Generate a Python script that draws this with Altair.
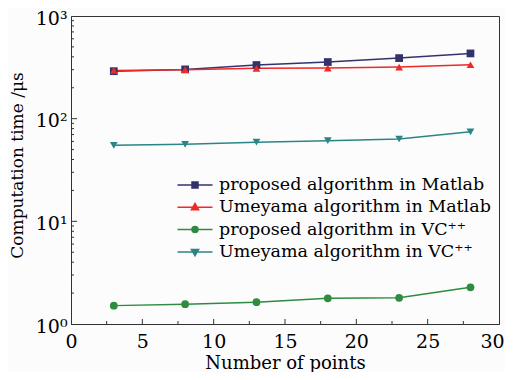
import altair as alt
import pandas as pd

x_points = [3, 8, 13, 18, 23, 28]
series_names = [
    "proposed algorithm in Matlab",
    "Umeyama algorithm in Matlab",
    "proposed algorithm in VC⁺⁺",
    "Umeyama algorithm in VC⁺⁺",
]
matlab_proposed = [290, 302, 333, 356, 389, 432]
matlab_umeyama = [295, 300, 309, 311, 318, 335]
vc_proposed = [1.51, 1.56, 1.63, 1.78, 1.80, 2.28]
vc_umeyama = [55, 56.3, 59, 61, 63.4, 74.5]
colors = ["#33336b", "#f02828", "#2e8b40", "#2b8585"]
shapes = ["square", "triangle-up", "circle", "triangle-down"]
legend_paths = [
    "M-1.75,0H1.75M-0.3,-0.3H0.3V0.3H-0.3Z",
    "M-1.75,0H1.75M0,-0.38L0.36,0.24H-0.36Z",
    "M-1.75,0H1.75M0.3,0A0.3,0.3 0 1,1 -0.3,0A0.3,0.3 0 1,1 0.3,0Z",
    "M-1.75,0H1.75M0,0.38L0.36,-0.24H-0.36Z",
]
x_ticks = [0, 5, 10, 15, 20, 25, 30]
x_major_inner = [5, 10, 15, 20, 25]
x_minor = [2.5, 7.5, 12.5, 17.5, 22.5, 27.5]
y_ticks = [1, 10, 100, 1000]
y_major_inner = [10, 100]
y_minor = [m * d for d in [1, 10, 100] for m in range(2, 10)]

rows = []
for name, vals in zip(series_names, [matlab_proposed, matlab_umeyama, vc_proposed, vc_umeyama]):
    for xv, yv in zip(x_points, vals):
        rows.append({"series": name, "x": xv, "y": yv})
df = pd.DataFrame(rows)

FONT = "DejaVu Serif"
W, H = 428, 308

xscale = alt.Scale(domain=[0, 30], nice=False, zero=False)
yscale = alt.Scale(type="log", domain=[1, 1000], nice=False)
cscale = alt.Scale(domain=series_names, range=colors)

sym_expr = " : ".join(
    f"datum.value === '{n}' ? '{p}'" for n, p in zip(series_names, legend_paths)
) + f" : '{legend_paths[0]}'"

legend = alt.Legend(
    title=None,
    orient="none",
    legendX=113,
    legendY=158,
    padding=0,
    symbolSize=400,
    symbolStrokeWidth=1.5,
    symbolType={"expr": sym_expr},
    symbolStrokeColor={"expr": "scale('color', datum.value)"},
    symbolFillColor={"expr": "scale('color', datum.value)"},
    symbolOpacity=1,
    rowPadding=2.3,
    labelOffset=13,
    labelFont=FONT,
    labelFontSize=17.5,
    labelColor="black",
    labelLimit=400,
)

xaxis = alt.Axis(
    values=x_ticks, grid=False, ticks=False, tickSize=0, labelPadding=8,
    labelFont=FONT, labelFontSize=19, labelColor="black",
    labelOffset={"condition": {"test": "datum.value == 30", "value": -7}, "value": 0},
    title="Number of points", titleFont=FONT, titleFontSize=18,
    titleFontWeight="normal", titleColor="black",
    titleY=44, titleBaseline="alphabetic",
    domainColor="#333333", labelFlush=False,
)
yaxis = alt.Axis(
    values=y_ticks, grid=False, ticks=False, tickSize=0, labelPadding=4,
    labelFont=FONT, labelFontSize=19, labelColor="black", labelOffset=2,
    labelExpr="datum.value == 1 ? '10⁰' : datum.value == 10 ? '10¹' : datum.value == 100 ? '10²' : '10³'",
    title="Computation time /μs", titleFont=FONT, titleFontSize=17,
    titleFontWeight="normal", titleColor="black",
    titleX=-54, titleY=149, titleAngle=-90, titleAlign="center", titleBaseline="middle",
    domainColor="#333333", labelFlush=False,
)

base = alt.Chart(df)
lines = base.mark_line(strokeWidth=1.5).encode(
    x=alt.X("x:Q", scale=xscale, axis=xaxis),
    y=alt.Y("y:Q", scale=yscale, axis=yaxis),
    color=alt.Color("series:N", scale=cscale, sort=series_names, legend=legend),
    detail="series:N",
)

point_layers = []
for name, shp in zip(series_names, shapes):
    point_layers.append(
        base.transform_filter(alt.datum.series == name)
        .mark_point(filled=True, size=60, opacity=1, shape=shp)
        .encode(
            x="x:Q",
            y="y:Q",
            color=alt.Color("series:N", scale=cscale, sort=series_names, legend=legend),
        )
    )

xt_major = alt.Chart(pd.DataFrame({"v": x_major_inner})).mark_rule(color="#333333").encode(
    x=alt.X("v:Q", scale=xscale), y=alt.value(H), y2=alt.value(H - 5)
)
xt_minor = alt.Chart(pd.DataFrame({"v": x_minor})).mark_rule(color="#333333").encode(
    x=alt.X("v:Q", scale=xscale), y=alt.value(H), y2=alt.value(H - 3)
)
yt_major = alt.Chart(pd.DataFrame({"v": y_major_inner})).mark_rule(color="#333333").encode(
    y=alt.Y("v:Q", scale=yscale), x=alt.value(0), x2=alt.value(6)
)
yt_minor = alt.Chart(pd.DataFrame({"v": y_minor})).mark_rule(color="#333333").encode(
    y=alt.Y("v:Q", scale=yscale), x=alt.value(0), x2=alt.value(3)
)

chart = alt.layer(xt_major, xt_minor, yt_major, yt_minor, lines, *point_layers).properties(
    width=W,
    height=H,
    autosize=alt.AutoSizeParams(type="none"),
    padding={"left": 63, "top": 8, "right": 6, "bottom": 48},
    background="#fcfcfc",
).configure_view(stroke="#333333", strokeWidth=1)

chart.save("out.html", embed_options={"renderer": "svg", "actions": False})
